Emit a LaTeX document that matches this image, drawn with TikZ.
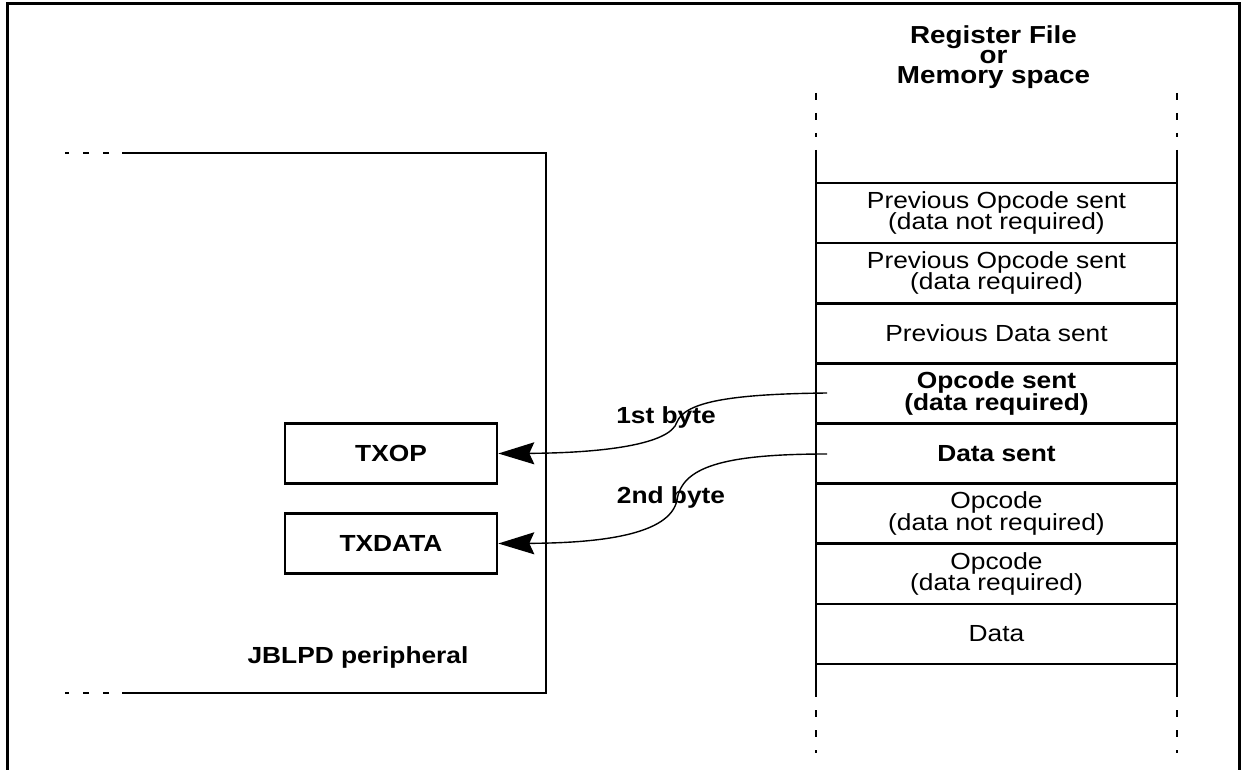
\documentclass[tikz,border=0pt]{standalone}
\usepackage{fontspec}
\setmainfont{Liberation Sans}[FakeStretch=1.13]
\usetikzlibrary{arrows.meta}
\newcommand\myrowfont{\fontsize{11.65}{10.75}\selectfont\lineskiplimit=-10pt}
\newcommand\myboldfont{\fontsize{11.65}{11}\selectfont\bfseries}
\newcommand\myheadfont{\fontsize{12.3}{10}\selectfont\bfseries\lineskiplimit=-10pt}
\begin{document}
\begin{tikzpicture}[x=0.5pt,y=-0.5pt,
  frame/.style={line width=1.5pt},
  thickline/.style={line width=1.3pt},
  rowbox/.style={draw, line width=1.3pt, minimum width=180.5pt, minimum height=30.05pt, inner sep=0pt, align=center, font=\myrowfont},
  boldrow/.style={rowbox, font=\myrowfont\bfseries},
  regbox/.style={draw, line width=1.3pt, minimum width=106pt, minimum height=30pt, inner sep=0pt, font=\myboldfont},
  lbl/.style={font=\myboldfont, inner sep=0pt, anchor=base},
  arr/.style={line width=0.7pt, -{Stealth[length=18pt,width=11pt,inset=2.5pt]}},
  dashedside/.style={line width=1.3pt, dash pattern=on 3.5pt off 6.5pt},
  dashedtop/.style={line width=1.3pt, dash pattern=on 3pt off 7pt}
]
\useasboundingbox (0,0) rectangle (1241,770);
% outer frame
\draw[frame] (7,772) -- (7,4) -- (1239.5,4) -- (1239.5,772);

% JBLPD peripheral block
\draw[thickline] (122,153) -- (546,153) -- (546,693) -- (122,693);
\draw[dashedtop] (109,153) -- (65,153);
\draw[dashedtop] (109,693) -- (65,693);
\node[lbl] (plabel) at (358,663.3) {JBLPD peripheral};

\node[regbox] (txop) at (391,453.5) {TXOP};
\node[regbox] (txdata) at (391,543.5) {TXDATA};

% register file column
\node[font=\myheadfont, align=center, inner sep=0pt] (hdr) at (993.5,57) {Register File\\or\\Memory space};
\draw[thickline] (816,150) -- (816,697);
\draw[thickline] (1177,150) -- (1177,697);
\draw[dashedside] (816,93) -- (816,137);
\draw[dashedside] (1177,93) -- (1177,137);
\draw[dashedside] (816,710) -- (816,753);
\draw[dashedside] (1177,710) -- (1177,753);

\node[rowbox] (r1) at (996.5,213.1) {Previous Opcode sent\\(data not required)};
\node[rowbox] (r2) at (996.5,273.2) {Previous Opcode sent\\(data required)};
\node[rowbox] (r3) at (996.5,333.3) {Previous Data sent};
\node[boldrow] (r4) at (996.5,393.4) {Opcode sent\\(data required)};
\node[boldrow] (r5) at (996.5,453.6) {Data sent};
\node[rowbox] (r6) at (996.5,513.7) {Opcode\\(data not required)};
\node[rowbox] (r7) at (996.5,573.8) {Opcode\\(data required)};
\node[rowbox] (r8) at (996.5,633.9) {Data};

% labels
\node[lbl] (l1) at (666,423.3) {1st byte};
\node[lbl] (l2) at (671,503.3) {2nd byte};

% connectors
\coordinate (s1) at (827,393);
\coordinate (s2) at (827,454);
\draw[arr] (s1) .. controls (730,394) and (685,402) .. (677,422)
                .. controls (670,445) and (600,453) .. (txop.east);
\draw[arr] (s2) .. controls (720,454) and (682,468) .. (677,500)
                .. controls (670,535) and (600,543) .. (txdata.east);
\end{tikzpicture}
\end{document}
